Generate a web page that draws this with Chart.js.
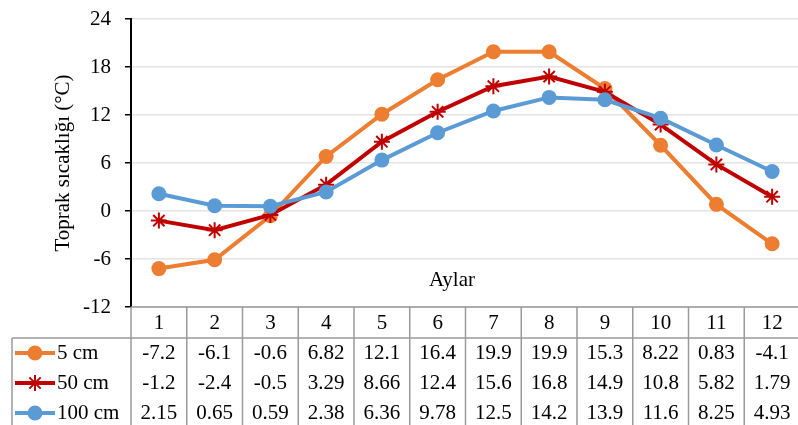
<!DOCTYPE html>
<html>
<head>
<meta charset="utf-8">
<script src="https://cdn.jsdelivr.net/npm/chart.js@4"></script>
<style>
  html, body { margin: 0; padding: 0; background: #fff; overflow: hidden; }
  #wrap { width: 810px; height: 425px; }
</style>
</head>
<body>
<div id="wrap"><canvas id="chart"></canvas></div>
<script>
// Aylar (months) and soil temperature per depth
const months = ["1", "2", "3", "4", "5", "6", "7", "8", "9", "10", "11", "12"];
const seriesNames = ["5 cm", "50 cm", "100 cm"];
const temp5 = [-7.2, -6.1, -0.6, 6.82, 12.1, 16.4, 19.9, 19.9, 15.3, 8.22, 0.83, -4.1];
const temp50 = [-1.2, -2.4, -0.5, 3.29, 8.66, 12.4, 15.6, 16.8, 14.9, 10.8, 5.82, 1.79];
const temp100 = [2.15, 0.65, 0.59, 2.38, 6.36, 9.78, 12.5, 14.2, 13.9, 11.6, 8.25, 4.93];
const yTicks = [-12, -6, 0, 6, 12, 18, 24];

const colors = ["#ED7D31", "#C00000", "#5B9BD5"];
const styles = ["circle", "star", "circle"];
const allValues = [temp5, temp50, temp100];
const FONT = "Liberation Serif, Times New Roman, serif";

// tablo + eksen başlıkları
const tablePlugin = {
  id: "dataTable",
  afterDraw(chart) {
    const ctx = chart.ctx;
    const x = chart.scales.x;
    const area = chart.chartArea;
    const w = x.getPixelForValue(1) - x.getPixelForValue(0);
    const top = area.bottom;
    const headerBottom = top + 31;
    const rowH = 30;
    const bottom = chart.height + 5;

    ctx.save();
    ctx.strokeStyle = "#9a9a9a";
    ctx.lineWidth = 1.5;
    ctx.beginPath();
    ctx.moveTo(area.left, top); ctx.lineTo(chart.width, top);
    ctx.moveTo(12, headerBottom); ctx.lineTo(chart.width, headerBottom);
    ctx.moveTo(12, headerBottom); ctx.lineTo(12, bottom);
    for (let i = 0; i <= months.length; i++) {
      const bx = x.getPixelForValue(0) - w / 2 + i * w;
      ctx.moveTo(bx, top); ctx.lineTo(bx, bottom);
    }
    ctx.stroke();

    ctx.fillStyle = "#000";
    ctx.font = "21px " + FONT;
    ctx.textAlign = "center";
    ctx.textBaseline = "middle";
    months.forEach((m, i) => ctx.fillText(m, x.getPixelForValue(i), top + 16));
    allValues.forEach((vals, r) => {
      const cy = headerBottom + rowH / 2 + r * rowH;
      vals.forEach((v, i) => ctx.fillText(String(v), x.getPixelForValue(i), cy));
      // legend key
      ctx.strokeStyle = colors[r];
      ctx.lineWidth = 4;
      ctx.beginPath(); ctx.moveTo(15, cy); ctx.lineTo(55, cy); ctx.stroke();
      ctx.fillStyle = colors[r];
      ctx.lineWidth = 2;
      if (styles[r] === "circle") {
        ctx.beginPath(); ctx.arc(35, cy, 7.5, 0, Math.PI * 2); ctx.fill();
      } else {
        Chart.helpers.drawPoint(ctx, { pointStyle: "star", radius: 8, borderWidth: 2 }, 35, cy);
      }
      ctx.fillStyle = "#000";
      ctx.textAlign = "left";
      ctx.fillText(seriesNames[r], 57, cy);
      ctx.textAlign = "center";
    });

    ctx.fillText("Aylar", 452, 280);
    ctx.translate(63, 163);
    ctx.rotate(-Math.PI / 2);
    ctx.fillText("Toprak sıcaklığı (°C)", 0, 0);
    ctx.restore();
  }
};

new Chart(document.getElementById("chart"), {
  type: "line",
  data: {
    labels: months,
    datasets: allValues.map((vals, r) => ({
      label: seriesNames[r],
      data: vals,
      borderColor: colors[r],
      backgroundColor: colors[r],
      borderWidth: 4,
      pointStyle: styles[r],
      pointRadius: styles[r] === "star" ? 8 : 7.5,
      pointBorderWidth: styles[r] === "star" ? 2 : 0,
      pointBackgroundColor: colors[r],
      pointBorderColor: colors[r],
      tension: 0,
      order: 2 - r
    }))
  },
  options: {
    responsive: true,
    maintainAspectRatio: false,
    animation: false,
    layout: { padding: { top: 19, right: 1, left: 0, bottom: 0 } },
    plugins: { legend: { display: false }, tooltip: { enabled: false } },
    scales: {
      x: {
        offset: true,
        ticks: { display: false },
        grid: { display: false, offset: true },
        border: { display: false },
        afterFit: s => { s.height = 118; }
      },
      y: {
        min: -12,
        max: 24,
        afterBuildTicks: s => { s.ticks = yTicks.map(v => ({ value: v })); },
        afterFit: s => { s.width = 131; s.paddingTop = 0; s.paddingBottom = 0; },
        ticks: { color: "#000", font: { family: FONT, size: 21 }, padding: 14 },
        grid: { color: "#e3e3e3", lineWidth: 1.5, tickColor: "#000", tickLength: 6 },
        border: { color: "#000", width: 2 }
      }
    }
  },
  plugins: [tablePlugin]
});
</script>
</body>
</html>
